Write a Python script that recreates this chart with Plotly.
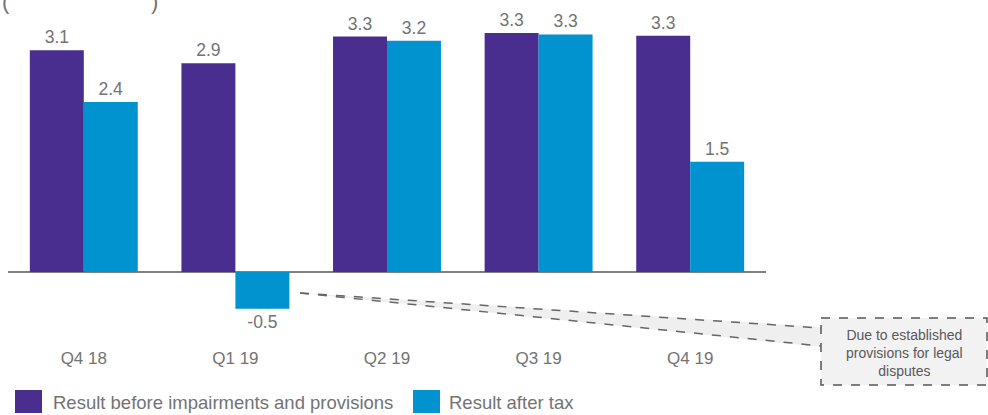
import plotly.graph_objects as go

categories = ["Q4 18", "Q1 19", "Q2 19", "Q3 19", "Q4 19"]
before_impairments = [3.08, 2.90, 3.27, 3.32, 3.28]
after_tax = [2.36, -0.51, 3.21, 3.30, 1.53]
series_names = ["Result before impairments and provisions", "Result after tax"]
note_text = "Due to established<br>provisions for legal<br>disputes"

PURPLE = "#4A2E8F"
CYAN = "#0093D0"
GRAY = "#737373"
FONT = "Arial, Liberation Sans, sans-serif"

W_FIG, H_FIG = 988, 415
L, R, T, B = 8, 222, 12, 69
PW = W_FIG - L - R
PH = H_FIG - T - B

def px(x):
    return (x - L) / PW

def py(y):
    return (T + PH - y) / PH

fig = go.Figure()
for name, vals, col in [(series_names[0], before_impairments, PURPLE),
                        (series_names[1], after_tax, CYAN)]:
    fig.add_trace(go.Bar(
        x=categories, y=vals, name=name, marker_color=col, marker_line_width=0,
        texttemplate="%{y:.1f}", textposition="outside",
        textfont=dict(size=17.5, color=GRAY, family=FONT), cliponaxis=False,
        showlegend=False))

fig.update_layout(
    width=W_FIG, height=H_FIG,
    margin=dict(l=L, r=R, t=T, b=B),
    paper_bgcolor="white", plot_bgcolor="white",
    barmode="group", bargap=0.288, bargroupgap=0,
    font=dict(family=FONT, color=GRAY),
    xaxis=dict(type="category", showgrid=False, showline=False, ticks="",
               tickfont=dict(size=17, color=GRAY, family=FONT)),
    yaxis=dict(range=[-1.028, 3.611], showgrid=False, showticklabels=False,
               zeroline=True, zerolinecolor="#808080", zerolinewidth=2),
)

shapes = []
annotations = []
# callout wedge fill
shapes.append(dict(type="path", xref="paper", yref="paper",
                   path=f"M {px(300)},{py(293)} L {px(821)},{py(327)} "
                        f"L {px(821)},{py(347)} Z",
                   fillcolor="#EFEFEF", line=dict(width=0), layer="above"))
# callout box
shapes.append(dict(type="rect", xref="paper", yref="paper",
                   x0=px(821), y0=py(318), x1=px(987), y1=py(385),
                   fillcolor="#F2F2F2", layer="above",
                   line=dict(color="#555555", width=1.5, dash="dash")))
# callout lines
shapes.append(dict(type="line", xref="paper", yref="paper",
                   x0=px(300), y0=py(293), x1=px(821), y1=py(328),
                   layer="above",
                   line=dict(color="#666666", width=1.5, dash="dash")))
shapes.append(dict(type="line", xref="paper", yref="paper",
                   x0=px(300), y0=py(293), x1=px(821), y1=py(346),
                   layer="above",
                   line=dict(color="#666666", width=1.5, dash="dash")))
annotations.append(dict(xref="paper", yref="paper", x=px(904), y=py(353),
                        text=note_text, showarrow=False, align="center",
                        font=dict(size=14, color="#595959", family=FONT),
                        xanchor="center", yanchor="middle"))

# custom legend
for name, col, sx, tx in [(series_names[0], PURPLE, 15, 51),
                          (series_names[1], CYAN, 413, 447)]:
    shapes.append(dict(type="rect", xref="paper", yref="paper",
                       x0=px(sx), x1=px(sx + 27), y0=py(413), y1=py(390),
                       fillcolor=col, line=dict(width=0)))
    annotations.append(dict(xref="paper", yref="paper", x=px(tx), y=py(402),
                            text=name, showarrow=False, xanchor="left",
                            yanchor="middle",
                            font=dict(size=18.5, color=GRAY, family=FONT)))

# clipped unit header (only bottom of parentheses visible)
for ch, xx in [("(", 0), (")", 149)]:
    annotations.append(dict(xref="paper", yref="paper", x=px(xx), y=py(16),
                            text=ch, showarrow=False, xanchor="left",
                            yanchor="bottom",
                            font=dict(size=22, color=GRAY, family=FONT)))

fig.update_layout(shapes=shapes, annotations=annotations)
fig.write_html("out.html", config={"displayModeBar": False},
               post_script="document.body.style.margin='0';"
                           "document.body.style.overflow='hidden';")
